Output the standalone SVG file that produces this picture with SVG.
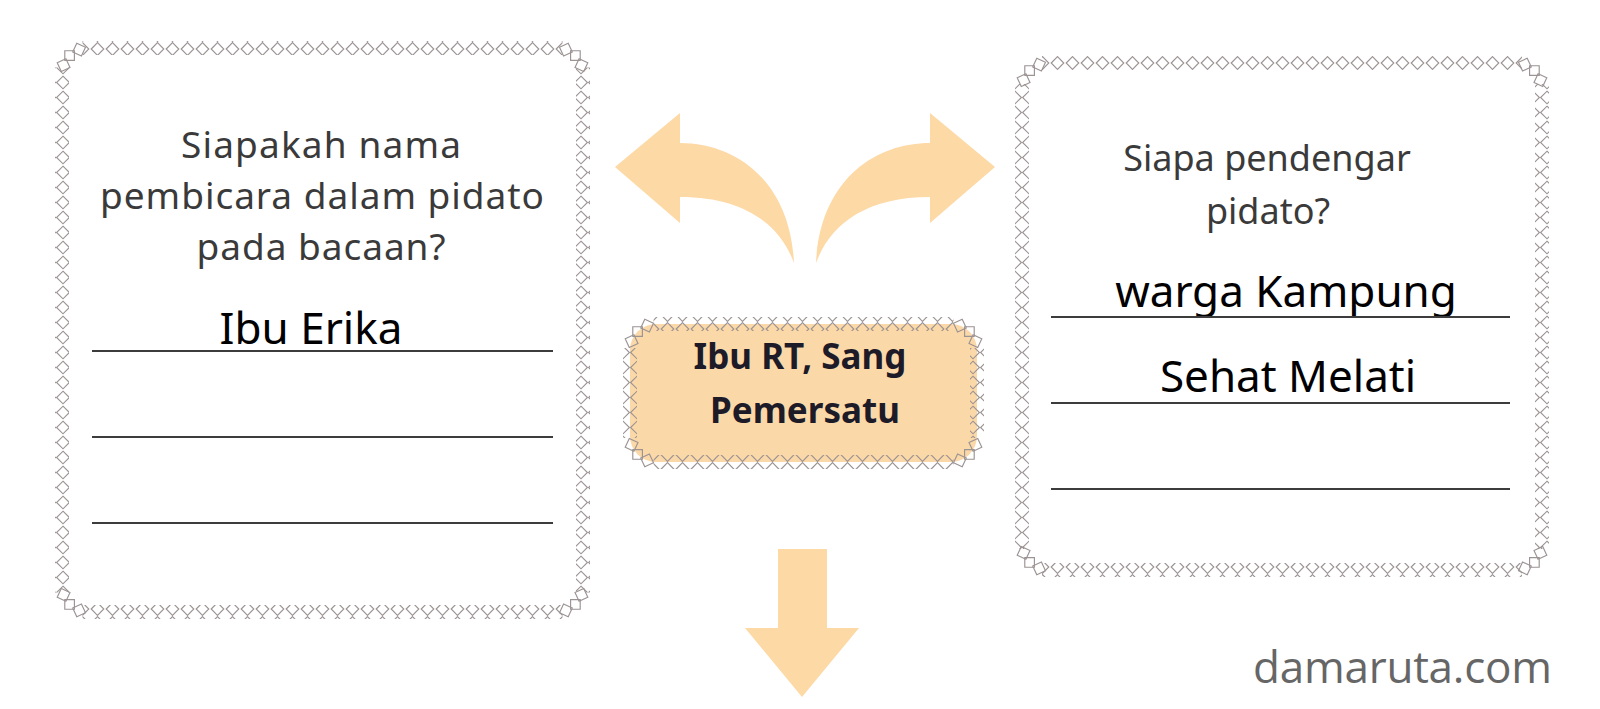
<svg xmlns="http://www.w3.org/2000/svg" xmlns:xlink="http://www.w3.org/1999/xlink" width="1600" height="709" viewBox="0 0 1600 709">
<style>
.dm{fill:none;stroke:#9c9393;stroke-width:1.15}
.q{font-family:"Noto Sans","Open Sans",sans-serif;font-size:37px;fill:#3a3a3a;text-anchor:middle}
.q2{font-family:"Noto Sans","Open Sans",sans-serif;font-size:36px;fill:#3a3a3a;text-anchor:middle}
.a{font-family:"Noto Sans","Open Sans",sans-serif;font-size:44px;fill:#000;text-anchor:middle}
.c{font-family:"Noto Sans","Open Sans",sans-serif;font-size:35px;font-weight:bold;fill:#1e1b28;text-anchor:middle}
.ln{stroke:#3c3c3c;stroke-width:2.2}
.arr{fill:#fdd9a6}
.wm{font-family:"Open Sans","Noto Sans",sans-serif;font-size:44px;fill:#666}
</style>
<defs>
<pattern id="dh" width="15" height="14" patternUnits="userSpaceOnUse"><polygon class="dm" points="1.2,7 7.5,0.6 13.8,7 7.5,13.4"/></pattern>
<pattern id="dv" width="14" height="15" patternUnits="userSpaceOnUse"><polygon class="dm" points="7,1.2 13.4,7.5 7,13.8 0.6,7.5"/></pattern>
<polygon id="d" class="dm" points="-6.8,0 0,-6.8 6.8,0 0,6.8"/>
<g id="corner">
<use href="#d" transform="translate(-24.4,-8.9) rotate(-70)"/>
<use href="#d" transform="translate(-18.4,-18.4) rotate(-45)"/>
<use href="#d" transform="translate(-8.9,-24.4) rotate(-20)"/>
</g>
</defs>
<rect width="1600" height="709" fill="#fff"/>

<g id="connectors">
<path id="arrow-left" class="arr" d="M615,167 L680,113 L680,143 C735,143 790,180 794,263 C780,225 745,197 680,197 L680,223 Z"/>
<path id="arrow-right" class="arr" transform="translate(1610,0) scale(-1,1)" d="M615,167 L680,113 L680,143 C735,143 790,180 794,263 C780,225 745,197 680,197 L680,223 Z"/>
<path id="arrow-down" class="arr" d="M778,549 L827,549 L827,628 L859,628 L802,697 L745,628 L778,628 Z"/>
</g>

<g id="node-left">
<rect x="82.5" y="41" width="480" height="14" fill="url(#dh)"/>
<rect x="82.5" y="605" width="480" height="14" fill="url(#dh)"/>
<rect x="55" y="67.5" width="14" height="525" fill="url(#dv)"/>
<rect x="576" y="67.5" width="14" height="525" fill="url(#dv)"/>
<use href="#corner" transform="translate(88,74)"/>
<use href="#corner" transform="translate(557,74) scale(-1,1)"/>
<use href="#corner" transform="translate(557,586) scale(-1,-1)"/>
<use href="#corner" transform="translate(88,586) scale(1,-1)"/>
<text class="q" x="321" y="158" textLength="280">Siapakah nama</text>
<text class="q" x="322" y="209" textLength="444">pembicara dalam pidato</text>
<text class="q" x="321" y="260" textLength="249">pada bacaan?</text>
<text class="a" x="311" y="344">Ibu Erika</text>
<line class="ln" x1="92" y1="351" x2="553" y2="351"/>
<line class="ln" x1="92" y1="437" x2="553" y2="437"/>
<line class="ln" x1="92" y1="523" x2="553" y2="523"/>
</g>

<g id="node-center">
<rect x="630" y="324" width="347" height="138" rx="26" fill="#fbd8a8"/>
<rect x="653.5" y="317" width="300" height="14" fill="url(#dh)"/>
<rect x="653.5" y="455" width="300" height="14" fill="url(#dh)"/>
<rect x="623" y="348" width="14" height="90" fill="url(#dv)"/>
<rect x="970" y="348" width="14" height="90" fill="url(#dv)"/>
<use href="#corner" transform="translate(656,350)"/>
<use href="#corner" transform="translate(951,350) scale(-1,1)"/>
<use href="#corner" transform="translate(951,436) scale(-1,-1)"/>
<use href="#corner" transform="translate(656,436) scale(1,-1)"/>
<text class="c" x="800" y="369">Ibu RT, Sang</text>
<text class="c" x="805" y="423">Pemersatu</text>
</g>

<g id="node-right">
<rect x="1042" y="56" width="480" height="14" fill="url(#dh)"/>
<rect x="1042" y="563" width="480" height="14" fill="url(#dh)"/>
<rect x="1015" y="84" width="14" height="465" fill="url(#dv)"/>
<rect x="1535" y="84" width="14" height="465" fill="url(#dv)"/>
<use href="#corner" transform="translate(1048,89)"/>
<use href="#corner" transform="translate(1516,89) scale(-1,1)"/>
<use href="#corner" transform="translate(1516,544) scale(-1,-1)"/>
<use href="#corner" transform="translate(1048,544) scale(1,-1)"/>
<text class="q2" x="1267" y="171">Siapa pendengar</text>
<text class="q2" x="1268" y="224">pidato?</text>
<text class="a" x="1286" y="307">warga Kampung</text>
<text class="a" x="1288" y="392">Sehat Melati</text>
<line class="ln" x1="1051" y1="317" x2="1510" y2="317"/>
<line class="ln" x1="1051" y1="403" x2="1510" y2="403"/>
<line class="ln" x1="1051" y1="489" x2="1510" y2="489"/>
</g>

<text id="watermark" class="wm" x="1253" y="683" textLength="299">damaruta.com</text>
</svg>
